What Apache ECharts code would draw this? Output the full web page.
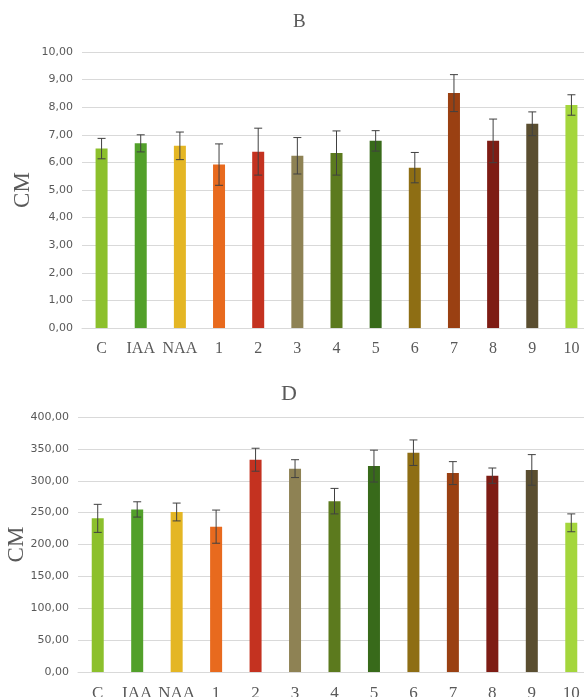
<!DOCTYPE html>
<html>
<head>
<meta charset="utf-8">
<script src="https://cdn.jsdelivr.net/npm/echarts@6/dist/echarts.min.js"></script>
<style>
  html, body { margin: 0; padding: 0; background: #fff; }
  #chart { width: 584px; height: 697px; }
</style>
</head>
<body>
<div id="chart"></div>
<script>
var categories = ['C', 'IAA', 'NAA', '1', '2', '3', '4', '5', '6', '7', '8', '9', '10'];
var barColors = ['#8cc02c', '#52a02a', '#e4b624', '#e86a1e', '#c43220', '#8e8254', '#5c7a1e',
                 '#386a1a', '#8e6e14', '#9a4012', '#7e1c14', '#5a4e30', '#a4d63c'];

// B
var meansB = [6.50, 6.69, 6.60, 5.92, 6.39, 6.24, 6.34, 6.78, 5.81, 8.51, 6.78, 7.40, 8.08];
var errB = [0.37, 0.31, 0.50, 0.75, 0.85, 0.66, 0.80, 0.37, 0.55, 0.67, 0.79, 0.43, 0.37];
// D
var meansD = [241, 255, 251, 228, 333, 319, 268, 323, 344, 312, 308, 317, 234];
var errD = [22, 12, 14, 26, 18, 14, 20, 25, 20, 18, 12, 24, 14];

var textGray = '#595959';
var gridGray = '#d9d9d9';

function fmt(v) {
  return v.toFixed(2).replace('.', ',');
}

function errData(means, errs) {
  return means.map(function (m, i) { return [i, m - errs[i], m + errs[i]]; });
}

function barData(means) {
  return means.map(function (m, i) {
    return { value: m, itemStyle: { color: barColors[i] } };
  });
}

// error bars: vertical line with caps at both ends
function renderErr(params, api) {
  var x = api.value(0);
  var lo = api.coord([x, api.value(1)]);
  var hi = api.coord([x, api.value(2)]);
  var half = 4;
  var style = { stroke: '#404040', lineWidth: 1 };
  return {
    type: 'group',
    children: [
      { type: 'line', shape: { x1: hi[0], y1: hi[1], x2: lo[0], y2: lo[1] }, style: style },
      { type: 'line', shape: { x1: hi[0] - half, y1: hi[1], x2: hi[0] + half, y2: hi[1] }, style: style },
      { type: 'line', shape: { x1: lo[0] - half, y1: lo[1], x2: lo[0] + half, y2: lo[1] }, style: style }
    ]
  };
}

function xAxisOf(gi, size, margin) {
  return {
    type: 'category',
    gridIndex: gi,
    data: categories,
    axisLine: { lineStyle: { color: gridGray } },
    axisTick: { show: false },
    axisLabel: { color: textGray, fontFamily: 'Liberation Serif', fontSize: size, margin: margin, interval: 0 }
  };
}

function yAxisOf(gi, max, step, gap, nameSize) {
  return {
    type: 'value',
    gridIndex: gi,
    min: 0,
    max: max,
    interval: step,
    name: 'CM',
    nameLocation: 'middle',
    nameGap: gap,
    nameMoveOverlap: false,
    nameTextStyle: { color: textGray, fontFamily: 'Liberation Serif', fontSize: nameSize },
    axisLine: { show: false },
    axisTick: { show: false },
    splitLine: { lineStyle: { color: gridGray } },
    axisLabel: { color: textGray, fontFamily: 'DejaVu Sans', fontSize: 11, margin: 9, formatter: fmt }
  };
}

var chart = echarts.init(document.getElementById('chart'));
chart.setOption({
  animation: false,
  backgroundColor: '#fff',
  title: [
    { text: 'B', left: 293, top: 13, padding: 0,
      textStyle: { color: textGray, fontFamily: 'Liberation Serif', fontSize: 19, fontWeight: 'normal' } },
    { text: 'D', left: 281, top: 383, padding: 0,
      textStyle: { color: textGray, fontFamily: 'Liberation Serif', fontSize: 22, fontWeight: 'normal' } }
  ],
  grid: [
    { left: 82, top: 52, width: 509, height: 276, outerBoundsMode: 'none' },
    { left: 78, top: 417, width: 513, height: 255, outerBoundsMode: 'none' }
  ],
  xAxis: [xAxisOf(0, 16, 13), xAxisOf(1, 17, 13)],
  yAxis: [yAxisOf(0, 10, 1, 48, 23), yAxisOf(1, 400, 50, 50, 23)],
  series: [
    { type: 'bar', xAxisIndex: 0, yAxisIndex: 0, barWidth: 12, data: barData(meansB) },
    { type: 'custom', xAxisIndex: 0, yAxisIndex: 0, z: 5, renderItem: renderErr, data: errData(meansB, errB) },
    { type: 'bar', xAxisIndex: 1, yAxisIndex: 1, barWidth: 12, data: barData(meansD) },
    { type: 'custom', xAxisIndex: 1, yAxisIndex: 1, z: 5, renderItem: renderErr, data: errData(meansD, errD) }
  ]
});
</script>
</body>
</html>
